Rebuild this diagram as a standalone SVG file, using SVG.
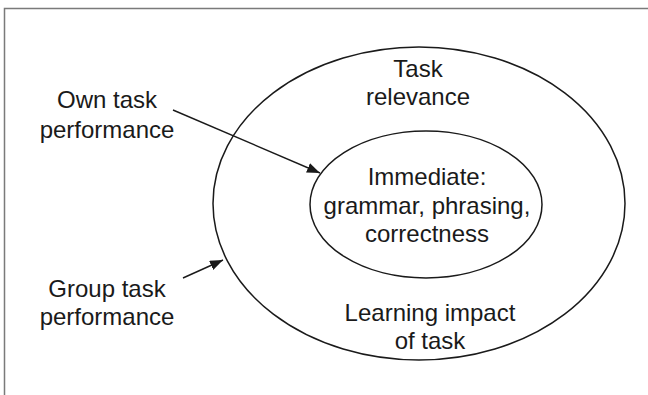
<svg xmlns="http://www.w3.org/2000/svg" width="648" height="395" viewBox="0 0 648 395">
  <style>
    .frame { fill: none; stroke: #7a7a7a; stroke-width: 1.5; }
    .ell { fill: none; stroke: #1a1a1a; stroke-width: 1.5; }
    .lbl { font-family: "Liberation Sans", Arial, Helvetica, sans-serif; font-size: 24px; fill: #1a1a1a; text-anchor: middle; }
    .conn { stroke: #1a1a1a; stroke-width: 1.4; fill: none; marker-end: url(#arrow); }
  </style>
  <defs>
    <marker id="arrow" viewBox="0 0 13 10" refX="13" refY="5" markerWidth="13" markerHeight="10" markerUnits="userSpaceOnUse" orient="auto">
      <path d="M0,0 L13,5 L0,10 z" fill="#1a1a1a"/>
    </marker>
  </defs>
  <rect width="648" height="395" fill="#ffffff"/>
  <path class="frame" d="M4.5,395 V8.5 H648"/>

  <g id="outer">
    <ellipse class="ell" cx="419" cy="203.5" rx="206" ry="156.5"/>
    <text class="lbl" x="418" y="77">Task</text>
    <text class="lbl" x="418" y="105">relevance</text>
    <text class="lbl" x="430" y="321">Learning impact</text>
    <text class="lbl" x="430" y="349">of task</text>
  </g>

  <g id="inner">
    <ellipse class="ell" cx="426" cy="204.5" rx="116" ry="73.5"/>
    <text class="lbl" x="427" y="185">Immediate:</text>
    <text class="lbl" x="427" y="214">grammar, phrasing,</text>
    <text class="lbl" x="427" y="242">correctness</text>
  </g>

  <g id="own">
    <text class="lbl" x="107" y="108">Own task</text>
    <text class="lbl" x="107" y="138">performance</text>
  </g>

  <g id="group">
    <text class="lbl" x="107" y="297">Group task</text>
    <text class="lbl" x="107" y="325">performance</text>
  </g>

  <g id="connectors">
    <line class="conn" x1="173" y1="110" x2="320" y2="173"/>
    <line class="conn" x1="183" y1="278" x2="223" y2="260"/>
  </g>
</svg>
